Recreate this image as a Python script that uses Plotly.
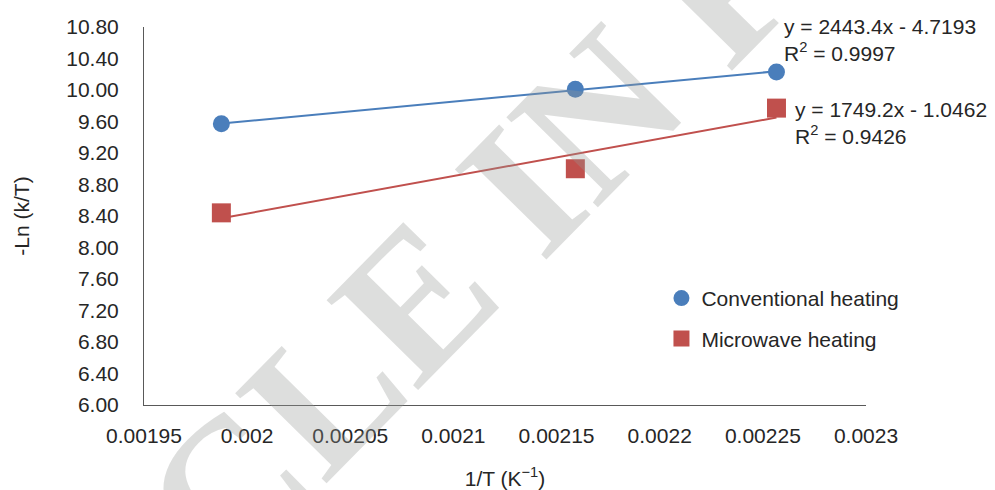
import numpy as np
import plotly.graph_objects as go

# 1/T values (K^-1) and -Ln(k/T) for the two heating methods
inv_T = [0.0019875, 0.0021591, 0.0022566]
conventional = [9.57, 10.01, 10.23]
microwave = [8.44, 9.00, 9.77]

x_tick_vals = [0.00195, 0.002, 0.00205, 0.0021, 0.00215, 0.0022, 0.00225, 0.0023]
x_tick_text = ["0.00195", "0.002", "0.00205", "0.0021", "0.00215", "0.0022", "0.00225", "0.0023"]

conv_eq = "y = 2443.4x - 4.7193<br>R<sup>2</sup> = 0.9997"
micro_eq = "y = 1749.2x - 1.0462<br>R<sup>2</sup> = 0.9426"

BLUE = "#4a7ebb"
RED = "#c0504d"
FONT = "Liberation Sans, Arial, sans-serif"
TEXT = "#262626"


def linear_fit(x, y):
    slope, intercept = np.polyfit(x, y, 1)
    xs = np.array([min(x), max(x)])
    return xs, slope * xs + intercept


fig = go.Figure()

for ys, color in ((conventional, BLUE), (microwave, RED)):
    fx, fy = linear_fit(inv_T, ys)
    fig.add_trace(go.Scatter(x=fx, y=fy, mode="lines", showlegend=False,
                             line=dict(color=color, width=2), hoverinfo="skip"))

fig.add_trace(go.Scatter(
    x=inv_T, y=conventional, mode="markers", name="Conventional heating",
    legendgroup="a",
    marker=dict(symbol="circle", size=17, color=BLUE)))
fig.add_trace(go.Scatter(
    x=inv_T, y=microwave, mode="markers", name="Microwave heating",
    legendgroup="b",
    marker=dict(symbol="square", size=19, color=RED)))

fig.add_annotation(x=0.8837, y=0.9656, xref="paper", yref="paper",
                   xanchor="left", yanchor="middle", align="left",
                   text=conv_eq, showarrow=False,
                   font=dict(family=FONT, size=21, color=TEXT))
fig.add_annotation(x=0.8989, y=0.747, xref="paper", yref="paper",
                   xanchor="left", yanchor="middle", align="left",
                   text=micro_eq, showarrow=False,
                   font=dict(family=FONT, size=21, color=TEXT))

# diagonal "ARTICLE IN PRESS" stamp across the page
fig.add_annotation(x=0.457, y=0.44, xref="paper", yref="paper",
                   xanchor="center", yanchor="middle",
                   text="<b>ARTICLE IN PRESS</b>", showarrow=False, textangle=-45.5,
                   font=dict(family="Liberation Serif, Times New Roman, serif",
                             size=196, color="rgba(150,152,150,0.32)"))

fig.update_layout(
    width=995, height=490,
    margin=dict(l=144, r=129, t=27, b=85, pad=0),
    paper_bgcolor="white", plot_bgcolor="white",
    font=dict(family=FONT, size=21, color=TEXT),
    legend=dict(x=0.7167, y=0.229, xanchor="left", yanchor="middle",
                bgcolor="rgba(0,0,0,0)", borderwidth=0,
                tracegroupgap=10, itemsizing="trace",
                font=dict(family=FONT, size=21, color=TEXT)),
    xaxis=dict(range=[0.00195, 0.0023], tickvals=x_tick_vals, ticktext=x_tick_text,
               showgrid=False, zeroline=False, showline=True, linecolor="#595959",
               linewidth=1, ticks="", ticklabelstandoff=12, automargin=False,
               title=dict(text="1/T (K<sup>\u22121</sup>)", standoff=27,
                          font=dict(family=FONT, size=21, color=TEXT)),
               tickfont=dict(family=FONT, size=21, color=TEXT)),
    yaxis=dict(range=[6, 10.8], dtick=0.4, tick0=6, tickformat=".2f",
               showgrid=False, zeroline=False, showline=True, linecolor="#595959",
               linewidth=1, ticks="", ticklabelstandoff=20, automargin=False,
               title=dict(text="-Ln (k/T)", standoff=30,
                          font=dict(family=FONT, size=21, color=TEXT)),
               tickfont=dict(family=FONT, size=21, color=TEXT)),
)

fig.write_html("out.html")
